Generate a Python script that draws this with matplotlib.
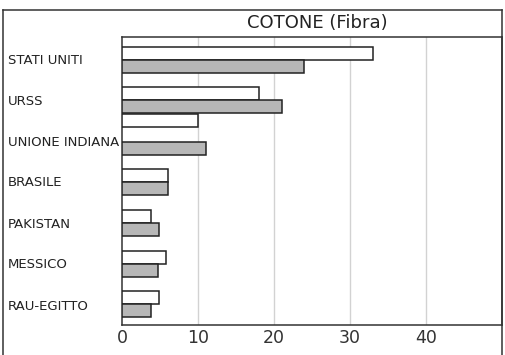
import numpy as np
import matplotlib
matplotlib.use('Agg')
import matplotlib.pyplot as plt
from matplotlib.lines import Line2D

# dati
paesi = ["STATI UNITI", "URSS", "UNIONE INDIANA", "BRASILE",
         "PAKISTAN", "MESSICO", "RAU-EGITTO"]
serie_bianca = [33, 18, 10, 6, 3.8, 5.8, 4.9]
serie_grigia = [24, 21, 11, 6, 4.9, 4.8, 3.8]
tick_valori = [0, 10, 20, 30, 40]
titolo = "COTONE (Fibra)"

fig = plt.figure(figsize=(5.06, 3.55), dpi=100)
ax = fig.add_axes([122/506, 1 - 325/355, 380/506, 288/355])

y = np.arange(len(paesi), dtype=float)
h = 0.32
# nel disegno originale le barre dell'Unione Indiana sono più distanziate
off_b = np.full(len(paesi), -0.17)
off_g = np.full(len(paesi), 0.15)
off_b[2], off_g[2] = -0.52, 0.17
ax.barh(y + off_b, serie_bianca, height=h, color='white',
        edgecolor='#222222', linewidth=1.1, zorder=3)
ax.barh(y + off_g, serie_grigia, height=h, color='#b7b7b7',
        edgecolor='#222222', linewidth=1.1, zorder=3)

ax.set_xlim(0, 50)
ax.set_ylim(6.495, -0.564)
ax.set_xticks(tick_valori)
ax.set_xticklabels([str(v) for v in tick_valori], fontsize=12.5,
                   color='#333333')
ax.tick_params(axis='x', length=0, pad=3)
ax.set_yticks([])
for v in tick_valori[1:]:
    ax.axvline(v, color='#d2d2d2', linewidth=1, zorder=1)

for s in ax.spines.values():
    s.set_color('#333333')
    s.set_linewidth(1.1)

# etichette paesi
for i, nome in enumerate(paesi):
    fig.text(8/506, 1 - (60 + i*41)/355, nome, fontsize=9.5,
             color='#222222', va='center', ha='left')

# titolo
fig.text(317/506, 1 - 23/355, titolo, fontsize=13, color='#222222',
         ha='center', va='center')

# cornice esterna
fx = lambda px: px/506
fy = lambda py: 1 - py/355
for xs, ys in [([3, 502], [10, 10]), ([3, 3], [10, 355]),
               ([502, 502], [10, 355])]:
    fig.add_artist(Line2D([fx(v) for v in xs], [fy(v) for v in ys],
                          color='#333333', linewidth=1.1))

plt.savefig('out.png', dpi=100)
